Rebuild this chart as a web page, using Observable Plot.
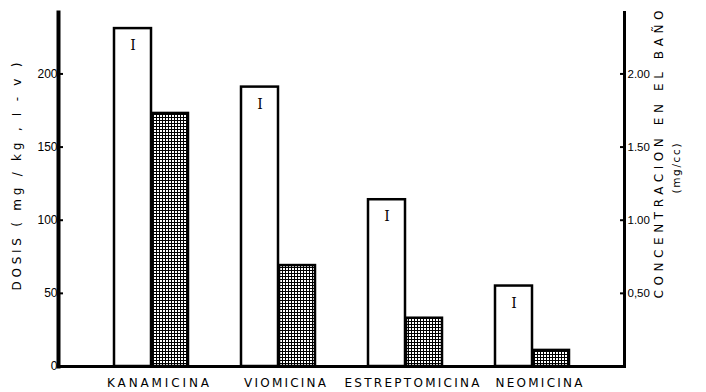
<!DOCTYPE html>
<html>
<head>
<meta charset="utf-8">
<script src="https://cdn.jsdelivr.net/npm/d3@7"></script>
<script src="https://cdn.jsdelivr.net/npm/@observablehq/plot@0.6"></script>
<style>
  html, body { margin: 0; padding: 0; background: #fff; }
</style>
</head>
<body>
<div id="chart"></div>
<script>
const drugs = ["KANAMICINA", "VIOMICINA", "ESTREPTOMICINA", "NEOMICINA"];
const dosis = [231, 191, 114, 55];
const concentracion = [1.73, 0.69, 0.33, 0.11];
const leftTicks = [0, 50, 100, 150, 200];
const rightTicks = [0.5, 1.0, 1.5, 2.0];
const rightTickLabels = ["0,50", "1.00", "1.50", "2.00"];
const leftLabel = "DOSIS ( mg / kg , I - v )";
const rightLabel = "CONCENTRACION EN EL BAÑO";
const rightUnit = "(mg/cc)";

const rows = drugs.map((d, i) => ({drug: d, dosis: dosis[i], conc: concentracion[i]}));
const rightLabelMap = new Map(rightTicks.map((v, i) => [v * 100, rightTickLabels[i]]));

// styling: stretched text widths (px)
const labelWidths = new Map([["KANAMICINA", 102], ["VIOMICINA", 82], ["ESTREPTOMICINA", 135], ["NEOMICINA", 87]]);

const svg = Plot.plot({
  width: 706,
  height: 392,
  marginLeft: 58,
  marginRight: 82,
  marginTop: 12,
  marginBottom: 26,
  style: {fontFamily: "Liberation Sans", fontSize: "12px", color: "black", background: "white"},
  x: {domain: drugs, range: [86, 597], padding: 0, axis: null},
  y: {domain: [0, 242], axis: null},
  marks: [
    Plot.barY(rows, {x: "drug", y: "dosis", fill: "white", stroke: "black", strokeWidth: 2.5, insetLeft: 26, insetRight: 64}),
    Plot.barY(rows, {x: "drug", y: d => d.conc * 100, fill: "url(#hatch)", stroke: "black", strokeWidth: 2.5, insetLeft: 64, insetRight: 27}),
    Plot.text(rows, {x: "drug", y: "dosis", text: () => "I", dx: -19, dy: 17, fontFamily: "DejaVu Serif", fontSize: 14, fill: "black"}),
    Plot.axisY({ticks: leftTicks, anchor: "left", tickSize: -5, tickPadding: 6, label: null, strokeWidth: 2, fontSize: 12}),
    Plot.axisY({ticks: rightTicks.map(v => v * 100), anchor: "right", tickFormat: d => rightLabelMap.get(d), tickSize: -5, tickPadding: 8, label: null, strokeWidth: 2, fontSize: 11.5}),
    Plot.axisX({tickSize: 0, tickPadding: 12, dx: 6, label: null, fontSize: 12, fontFamily: "DejaVu Sans"}),
    Plot.frame({anchor: "left", strokeWidth: 4}),
    Plot.frame({anchor: "right", strokeWidth: 3}),
    Plot.frame({anchor: "bottom", strokeWidth: 3}),
    Plot.text([leftLabel], {text: d => d, frameAnchor: "left", rotate: -90, textAnchor: "start", dx: -41, dy: 101, fontSize: 12, fontFamily: "DejaVu Sans"}),
    Plot.text([rightLabel], {text: d => d, frameAnchor: "right", rotate: -90, textAnchor: "start", dx: 35, dy: 109, fontSize: 12, fontFamily: "DejaVu Sans"}),
    Plot.text([rightUnit], {text: d => d, frameAnchor: "right", rotate: -90, textAnchor: "start", dx: 52, dy: 4, fontSize: 10.5, fontFamily: "DejaVu Sans"})
  ]
});

const s = d3.select(svg);
const defs = s.insert("defs", ":first-child");
const pat = defs.append("pattern").attr("id", "hatch").attr("patternUnits", "userSpaceOnUse").attr("width", 3).attr("height", 3);
pat.append("rect").attr("width", 3).attr("height", 3).attr("fill", "black");
pat.append("rect").attr("x", 1).attr("y", 1).attr("width", 2).attr("height", 2).attr("fill", "white");

s.selectAll("text").each(function() {
  const t = this.textContent;
  const el = d3.select(this);
  if (labelWidths.has(t)) el.attr("textLength", labelWidths.get(t)).attr("lengthAdjust", "spacing");
  else if (t === leftLabel) el.attr("textLength", 228).attr("lengthAdjust", "spacing");
  else if (t === rightLabel) el.attr("textLength", 288).attr("lengthAdjust", "spacing");
  else if (t === rightUnit) el.attr("textLength", 50).attr("lengthAdjust", "spacing");
});

document.getElementById("chart").appendChild(svg);
</script>
</body>
</html>
